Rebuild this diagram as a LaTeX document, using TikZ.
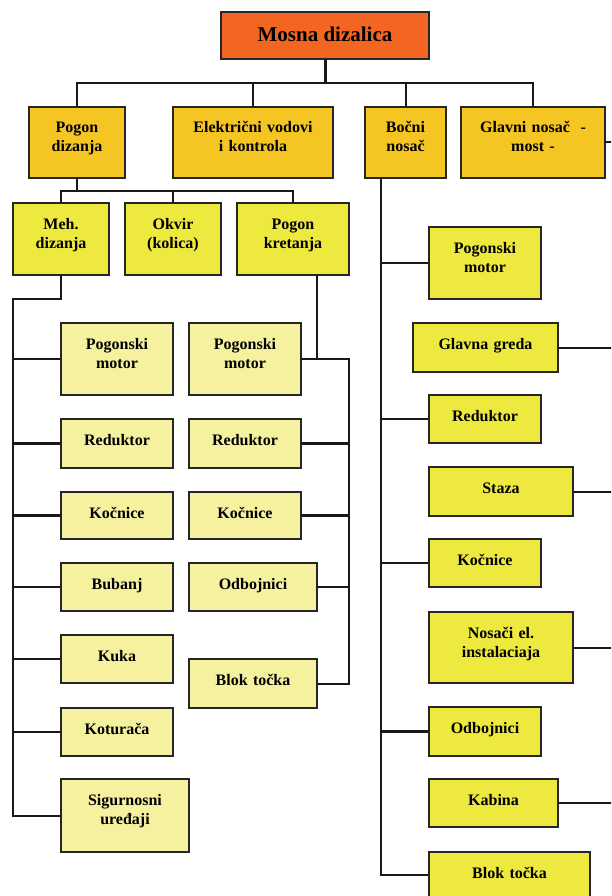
\documentclass[tikz,border=0pt]{standalone}
\usepackage{fontspec}
\setmainfont{Liberation Serif}
\definecolor{corg}{RGB}{242,102,34}
\definecolor{cgold}{RGB}{245,198,35}
\definecolor{cyel}{RGB}{238,233,62}
\definecolor{cpale}{RGB}{245,241,158}
\tikzset{
 boxbase/.style={draw=black!85, line width=1.9pt, inner sep=0pt, outer sep=0pt},
 tx/.style={inner sep=0pt, text width=170pt, align=center, font=\fontsize{16}{19}\selectfont\bfseries},
 conn/.style={line width=2pt, draw=black!90},
 stub/.style={line width=2.5pt, draw=black!90},
}
\newcommand\bx[7]{%
 \node[boxbase,#6,minimum width={(#4)-(#2)},minimum height={(#5)-(#3)}] (#1) at ({((#2)+(#4))/2},{((#3)+(#5))/2}) {};
 \node[tx,anchor=base] (#1t) at ([yshift=-26pt]#1.north) {#7};
}
\begin{document}
\begin{tikzpicture}[x=1pt,y=-1pt]
\useasboundingbox (0,0) rectangle (611,896);
\fill[white] (0,0) rectangle (611,896);
\clip (0,0) rectangle (611,896);

% title
\node[boxbase,fill=corg,minimum width=208,minimum height=47] (mosna) at (325,35.5) {};
\node[inner sep=0pt,anchor=base,font=\fontsize{21}{24}\selectfont\bfseries] (mosnat) at ([yshift=-30pt]mosna.north) {Mosna dizalica};

% level 1
\bx{pd}{29}{107}{125}{178}{fill=cgold}{Pogon\\dizanja}
\bx{ek}{173}{107}{333}{178}{fill=cgold}{Električni vodovi\\i kontrola}
\bx{bn}{365}{107}{446}{178}{fill=cgold}{Bočni\\nosač}
\bx{gn}{461}{107}{605}{178}{fill=cgold}{Glavni nosač~ -\\most -}

% level 2
\bx{meh}{13}{203}{109}{275}{fill=cyel}{Meh.\\dizanja}
\bx{ok}{125}{203}{221}{275}{fill=cyel}{Okvir\\(kolica)}
\bx{pk}{237}{203}{349}{275}{fill=cyel}{Pogon\\kretanja}

% left column
\bx{pma}{61}{323}{173}{395}{fill=cpale}{Pogonski\\motor}
\bx{reda}{61}{419}{173}{468}{fill=cpale}{Reduktor}
\bx{koca}{61}{492}{173}{539}{fill=cpale}{Kočnice}
\bx{bub}{61}{563}{173}{611}{fill=cpale}{Bubanj}
\bx{kuka}{61}{635}{173}{683}{fill=cpale}{Kuka}
\bx{kot}{61}{708}{173}{756}{fill=cpale}{Koturača}
\bx{sig}{61}{779}{189}{852}{fill=cpale}{Sigurnosni\\uređaji}

% middle column
\bx{pmb}{189}{323}{301}{395}{fill=cpale}{Pogonski\\motor}
\bx{redb}{189}{419}{301}{468}{fill=cpale}{Reduktor}
\bx{kocb}{189}{492}{301}{539}{fill=cpale}{Kočnice}
\bx{odbb}{189}{563}{317}{611}{fill=cpale}{Odbojnici}
\bx{btb}{189}{659}{317}{708}{fill=cpale}{Blok točka}

% right column
\bx{pmc}{429}{227}{541}{299}{fill=cyel}{Pogonski\\motor}
\bx{gg}{413}{323}{558}{372}{fill=cyel}{Glavna greda}
\bx{redc}{429}{395}{541}{443}{fill=cyel}{Reduktor}
\bx{st}{429}{467}{573}{516}{fill=cyel}{Staza}
\bx{kocc}{429}{539}{541}{587}{fill=cyel}{Kočnice}
\bx{nos}{429}{612}{573}{683}{fill=cyel}{Nosači el.\\instalaciaja}
\bx{odbc}{429}{707}{541}{756}{fill=cyel}{Odbojnici}
\bx{kab}{429}{779}{558}{827}{fill=cyel}{Kabina}
\bx{btc}{429}{852}{590}{898}{fill=cyel}{Blok točka}

% coordinates
\coordinate (bus) at (0,83);
\coordinate (bus2) at (0,191);
\coordinate (lv) at (13,299);
\coordinate (rv) at (349,359);
\coordinate (edge) at (616,0);

% top connectors
\draw[line width=3pt,black!90] (mosna.south) -- (mosna.south |- bus);
\draw[conn] (pd.north) -- (pd.north |- bus) -| (gn.north);
\draw[conn] (ek.north) -- (ek.north |- bus);
\draw[conn] (bn.north) -- (bn.north |- bus);
\draw[conn] (gn.east) -- (gn.east -| edge);

% level 2 connectors
\draw[conn] (pd.south) -- (pd.south |- bus2);
\draw[conn] (meh.north) -- (meh.north |- bus2) -| (pk.north);
\draw[conn] (ok.north) -- (ok.north |- bus2);

% left column connectors
\draw[conn] (meh.south) |- (lv) |- (sig.west);
\foreach \n in {pma,reda,koca,bub,kuka,kot}
  \draw[stub] (\n.west) -- (\n.west -| lv);

% middle column connectors
\draw[conn] ([xshift=24pt]pk.south) -- ([xshift=24pt]pk.south |- rv);
\draw[conn] (pmb.east) -- (rv) |- (btb.east);
\foreach \n in {redb,kocb,odbb}
  \draw[stub] (\n.east) -- (\n.east -| rv);

% right column connectors
\coordinate (rc) at ([xshift=-24.5pt]bn.south);
\draw[conn] (rc) |- (btc.west);
\foreach \n in {pmc,redc,kocc,odbc}
  \draw[stub] (\n.west) -- (\n.west -| rc);
\foreach \n in {gg,st,nos,kab}
  \draw[conn] (\n.east) -- (\n.east -| edge);
\end{tikzpicture}
\end{document}
